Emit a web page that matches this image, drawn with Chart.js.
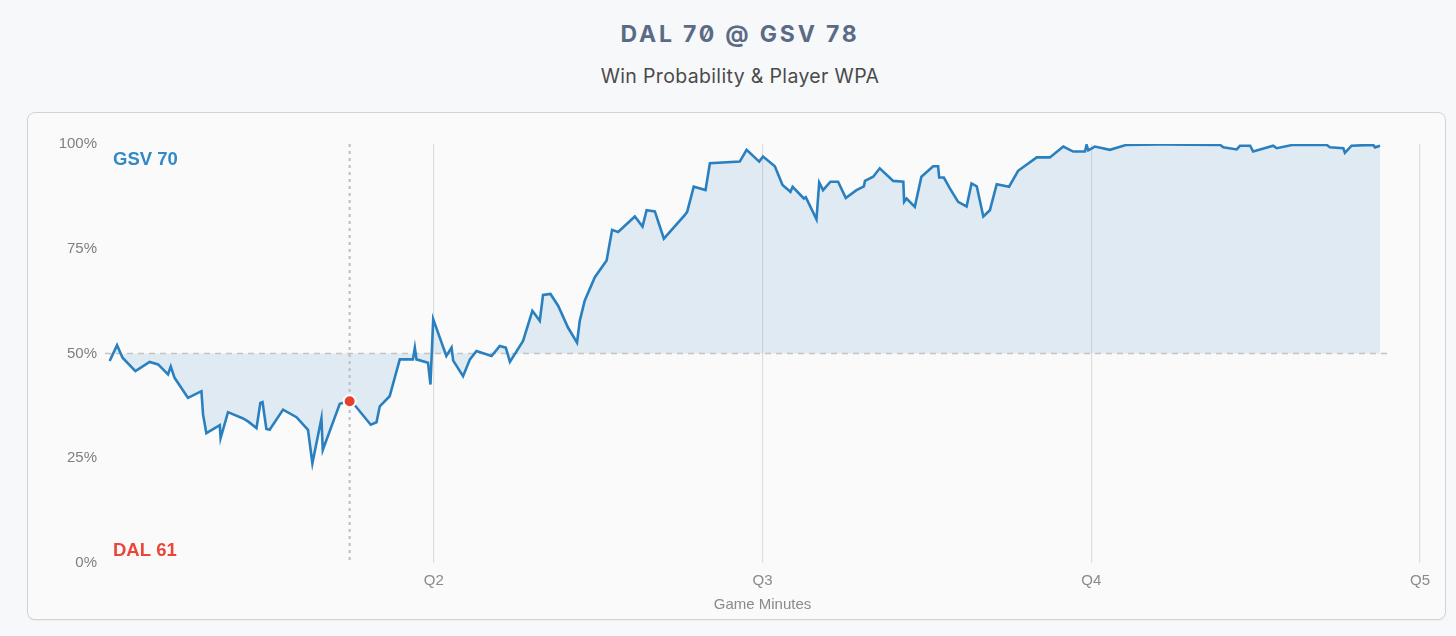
<!DOCTYPE html>
<html>
<head>
<meta charset="utf-8">
<script src="https://cdn.jsdelivr.net/npm/chart.js@4.4.1/dist/chart.umd.min.js"></script>
<style>
  body { margin: 0; background: #f7f8fa; width: 1456px; height: 636px; position: relative; overflow: hidden; }
  #title { position: absolute; top: 19px; left: 27px; width: 1426px; text-align: center; font: 700 23px/30px Inter, sans-serif; letter-spacing: 2.8px; color: #5b6a85; font-feature-settings: "zero" 1; }
  #subtitle { position: absolute; top: 63px; left: 27px; width: 1426px; text-align: center; font: 400 19.5px/26px Inter, sans-serif; letter-spacing: 0.35px; color: #4a4a4a; }
  #card { position: absolute; left: 27px; top: 112px; width: 1419px; height: 508px; box-sizing: border-box; border: 1px solid #d3d3d3; border-radius: 8px; background: #fafafa; box-shadow: 0 1px 1px rgba(0,0,0,0.05); }
  #wrap { position: absolute; left: 0; top: 0; width: 1417px; height: 506px; }
</style>
</head>
<body>
<div id="title">DAL 70 @ GSV 78</div>
<div id="subtitle">Win Probability &amp; Player WPA</div>
<div id="card"><div id="wrap"><canvas id="wpChart"></canvas></div></div>
<script>
// game minute of each play and GSV win probability (%)
const minutes = [0.17,0.44,0.64,1.11,1.63,1.94,2.30,2.40,2.54,3.03,
  3.52,3.58,3.70,4.19,4.22,4.49,5.04,5.22,5.53,5.67,
  5.75,5.89,6.01,6.50,6.99,7.41,7.57,7.90,7.95,8.57,
  8.93,9.15,9.70,9.91,10.03,10.39,10.76,11.24,11.31,11.37,
  11.79,11.88,11.98,12.46,12.65,12.71,13.07,13.32,13.56,14.11,
  14.41,14.63,14.78,15.26,15.60,15.87,15.99,16.26,16.54,16.90,
  17.23,17.33,17.51,17.88,18.31,18.51,18.73,19.34,19.62,19.77,
  20.07,20.40,21.16,21.25,21.49,21.92,22.08,23.17,23.42,23.88,
  24.02,24.45,24.73,25.02,25.10,25.51,25.58,25.97,26.07,26.21,
  26.48,26.76,27.04,27.43,27.70,27.74,28.04,28.28,28.77,29.14,
  29.17,29.26,29.56,29.80,30.23,30.41,30.45,30.62,30.84,31.14,
  31.45,31.63,31.82,32.06,32.30,32.55,33.00,33.33,34.01,34.49,
  34.98,35.34,35.77,35.83,35.89,36.13,36.68,37.29,38.50,40.70,
  40.82,41.31,41.43,41.80,41.91,42.64,42.77,43.37,44.59,44.71,
  45.20,45.26,45.50,46.29,46.36,46.54];
const winProb = [48.2,52,49,45.8,48,47.4,45,46.9,44.2,39.4,
  41,35.4,31,32.9,29.8,36,34.5,33.8,32.2,38.2,
  38.4,32,31.8,36.6,34.8,31.8,23.8,34.5,27,38,
  38.6,37.4,33,33.6,37.4,39.8,48.6,48.6,51.4,48.6,
  47.8,42.6,58.2,49.4,51.4,48.3,44.6,48.6,50.6,49.4,
  51.8,51.4,48,53,60.2,57.8,64,64.2,61.4,56.2,
  52.6,57.8,62.6,68.2,72.2,79.5,79,82.7,80.3,84.2,
  83.9,77.4,83,83.8,89.8,89,95.4,95.8,98.6,95.8,
  97,94.7,90.2,88.6,89.8,87,87.3,82,90.8,89,
  91,91,87.1,89,89.9,91.2,92.2,94.2,91.2,91,
  86.2,87,85,92.2,94.7,94.7,92,92,89.4,86.2,
  85.1,90.6,89.9,82.7,84.2,90.4,89.8,93.6,96.8,96.8,
  99.4,98.2,98.2,99.8,98.5,99.4,98.6,99.8,99.9,99.8,
  99.2,98.7,99.6,99.6,98.2,99.6,99,99.8,99.8,99.2,
  99,97.9,99.6,99.8,99.2,99.6];

const quarterTicks = [12, 24, 36, 48];
const quarterLabels = ['Q2', 'Q3', 'Q4', 'Q5'];
const probTicks = [0, 25, 50, 75, 100];

// selected play (red marker + dotted guide)
const markerMinute = [8.93];
const markerProb = [38.6];

const evenSpan = [0, 46.9];  // minutes covered by the 50% line
const homeLabel = 'GSV 70';
const awayLabel = 'DAL 61';

const blue = '#2a80bf';

const overlay = {
  id: 'overlay',
  beforeDatasetsDraw(chart) {
    const {ctx, chartArea, scales} = chart;
    const x = scales.x.getPixelForValue(markerMinute[0]);
    ctx.save();
    ctx.strokeStyle = '#bdbdbd';
    ctx.lineWidth = 2;
    ctx.setLineDash([3, 4]);
    ctx.beginPath();
    ctx.moveTo(x, chartArea.top);
    ctx.lineTo(x, chartArea.bottom);
    ctx.stroke();
    ctx.restore();
  },
  afterDatasetsDraw(chart) {
    const {ctx, chartArea} = chart;
    ctx.save();
    ctx.font = 'bold 18.5px "Liberation Sans", Arial, sans-serif';
    ctx.textBaseline = 'middle';
    ctx.fillStyle = '#3189c6';
    ctx.fillText(homeLabel, chartArea.left + 8, chartArea.top + 16);
    ctx.fillStyle = '#e8473a';
    ctx.fillText(awayLabel, chartArea.left + 8, chartArea.bottom - 12);
    ctx.restore();
  }
};

const tickFont = {family: '"Liberation Sans", Arial, sans-serif', size: 15};

new Chart(document.getElementById('wpChart'), {
  type: 'line',
  data: {
    datasets: [{
      data: markerMinute.map((m, i) => ({x: m, y: markerProb[i]})),
      showLine: false,
      pointRadius: 6,
      pointBackgroundColor: '#e8402f',
      pointBorderColor: '#ffffff',
      pointBorderWidth: 2
    }, {
      data: minutes.map((m, i) => ({x: m, y: winProb[i]})),
      borderColor: blue,
      borderWidth: 2.6,
      pointRadius: 0,
      tension: 0,
      fill: {value: 50, above: 'rgba(46,134,193,0.13)', below: 'rgba(46,134,193,0.13)'}
    }, {
      data: evenSpan.map(m => ({x: m, y: 50})),
      borderColor: '#c4c4c4',
      borderWidth: 1.3,
      borderDash: [6, 5],
      pointRadius: 0,
      fill: false
    }]
  },
  options: {
    responsive: true,
    maintainAspectRatio: false,
    animation: false,
    events: [],
    layout: {padding: {top: 31, right: 25, bottom: 5, left: 0}},
    plugins: {
      legend: {display: false},
      tooltip: {enabled: false},
      filler: {drawTime: 'beforeDatasetsDraw'}
    },
    scales: {
      x: {
        type: 'linear',
        min: 0,
        max: 48,
        afterBuildTicks: s => { s.ticks = quarterTicks.map(v => ({value: v})); },
        ticks: {
          padding: 9,
          color: '#8a8a8a',
          font: tickFont,
          maxRotation: 0,
          callback: v => quarterLabels[quarterTicks.indexOf(v)]
        },
        grid: {color: '#dedede', lineWidth: 1.2, drawTicks: false},
        border: {display: false},
        title: {display: true, text: 'Game Minutes', color: '#8a8a8a', font: tickFont, padding: {top: -3, bottom: 0}}
      },
      y: {
        min: 0,
        max: 100,
        afterBuildTicks: s => { s.ticks = probTicks.map(v => ({value: v})); },
        afterFit: s => { s.width = 77; },
        ticks: {
          padding: 8,
          color: '#7f7f7f',
          font: tickFont,
          callback: v => v + '%'
        },
        grid: {display: false, drawTicks: false},
        border: {display: false}
      }
    }
  },
  plugins: [overlay]
});
</script>
</body>
</html>
